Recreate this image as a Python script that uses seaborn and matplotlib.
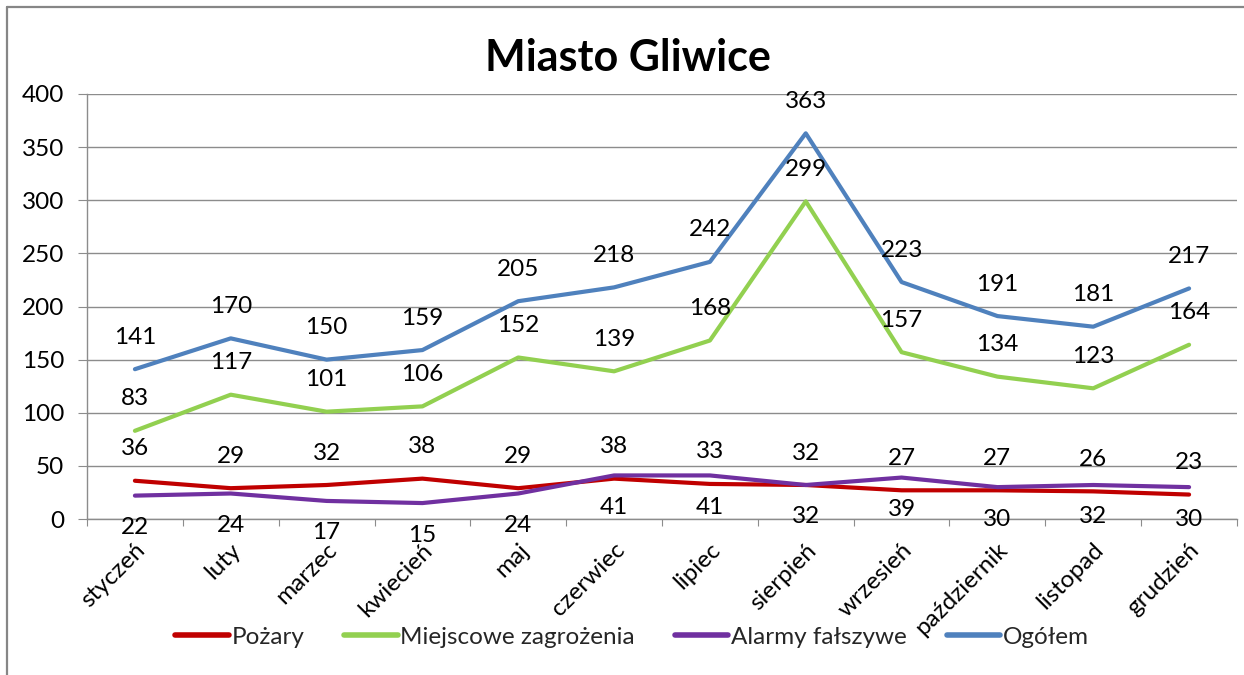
import numpy as np
import pandas as pd
import seaborn as sns
import matplotlib
matplotlib.use("Agg")
import matplotlib.pyplot as plt
import matplotlib.transforms as mtransforms
from matplotlib.lines import Line2D

# Monthly incident counts
months = ["styczeń", "luty", "marzec", "kwiecień", "maj", "czerwiec",
          "lipiec", "sierpień", "wrzesień", "październik", "listopad", "grudzień"]
pozary = [36, 29, 32, 38, 29, 38, 33, 32, 27, 27, 26, 23]
miejscowe = [83, 117, 101, 106, 152, 139, 168, 299, 157, 134, 123, 164]
alarmy = [22, 24, 17, 15, 24, 41, 41, 32, 39, 30, 32, 30]
ogolem = [141, 170, 150, 159, 205, 218, 242, 363, 223, 191, 181, 217]

series_names = ["Pożary", "Miejscowe zagrożenia", "Alarmy fałszywe", "Ogółem"]
series_values = [pozary, miejscowe, alarmy, ogolem]
colors = ["#C00000", "#92D050", "#7030A0", "#4F81BD"]
label_side = [1, 1, -1, 1]  # +1 label above the point, -1 below

sns.set_theme(style="white")
plt.rcParams["font.family"] = ["Lato", "DejaVu Sans"]

FS = 17.5

df = pd.concat(
    [pd.DataFrame({"idx": np.arange(len(months)), "value": vals, "series": name})
     for name, vals in zip(series_names, series_values)],
    ignore_index=True,
)

W, H = 1244, 675
fig = plt.figure(figsize=(W / 100, H / 100), dpi=100)
ax = fig.add_axes([87 / W, 1 - 519 / H, (1237 - 87) / W, (519 - 94) / H])

sns.lineplot(data=df, x="idx", y="value", hue="series", hue_order=series_names,
             palette=colors, linewidth=3.0, sort=False, legend=False, ax=ax,
             solid_capstyle="round")

ax.set_xlim(-0.5, len(months) - 0.5)
ax.set_ylim(0, 400)
ax.set_yticks(np.arange(0, 401, 50))
ax.yaxis.grid(True, color="#8C8C8C", linewidth=1.0)
ax.set_axisbelow(True)
ax.set_xlabel("")
ax.set_ylabel("")

for side in ["top", "right"]:
    ax.spines[side].set_visible(False)
for side in ["left", "bottom"]:
    ax.spines[side].set_color("#8C8C8C")
    ax.spines[side].set_linewidth(1.0)

ax.tick_params(axis="y", which="major", left=True, length=6.5, width=0.8,
               color="#8C8C8C", pad=10, labelsize=FS, labelcolor="#000000")

# Category labels at the centres, tick marks on the boundaries
ax.set_xticks(np.arange(len(months)))
ax.set_xticklabels(months, rotation=45, ha="right", va="center",
                   rotation_mode="anchor", fontsize=FS, color="#000000")
ax.set_xticks(np.arange(-0.5, len(months)), minor=True)
ax.tick_params(axis="x", which="major", bottom=True, length=0, pad=20)
ax.tick_params(axis="x", which="minor", bottom=True, length=5, width=0.8,
               color="#8C8C8C")
shift = mtransforms.ScaledTranslation(7 / 100, 0, fig.dpi_scale_trans)
for lab in ax.get_xticklabels():
    lab.set_transform(lab.get_transform() + shift)

# Value labels
for vals, sgn in zip(series_values, label_side):
    for i, v in enumerate(vals):
        ax.annotate(str(v), (i, v), xytext=(0, 23 * sgn), textcoords="offset points",
                    ha="center", va="center", fontsize=FS, color="#000000")

fig.text(628 / W, 1 - 58 / H, "Miasto Gliwice", ha="center", va="center",
         fontsize=31, fontweight="bold", color="#000000")

handles = [Line2D([], [], color=c, linewidth=4.0, solid_capstyle="round")
           for c in colors]
fig.legend(handles, series_names, loc="center", bbox_to_anchor=(632 / W, 1 - 637 / H),
           ncol=4, frameon=False, fontsize=FS, handlelength=2.2, handletextpad=0.1,
           columnspacing=1.65)

# Outer chart frame
frame_kw = dict(color="#868686", linewidth=1.6, transform=fig.transFigure)
fig.add_artist(Line2D([7 / W, 7 / W], [1 - 7 / H, 0], **frame_kw))
fig.add_artist(Line2D([7 / W, 1], [1 - 7 / H, 1 - 7 / H], **frame_kw))

fig.savefig("out.png", dpi=100)
